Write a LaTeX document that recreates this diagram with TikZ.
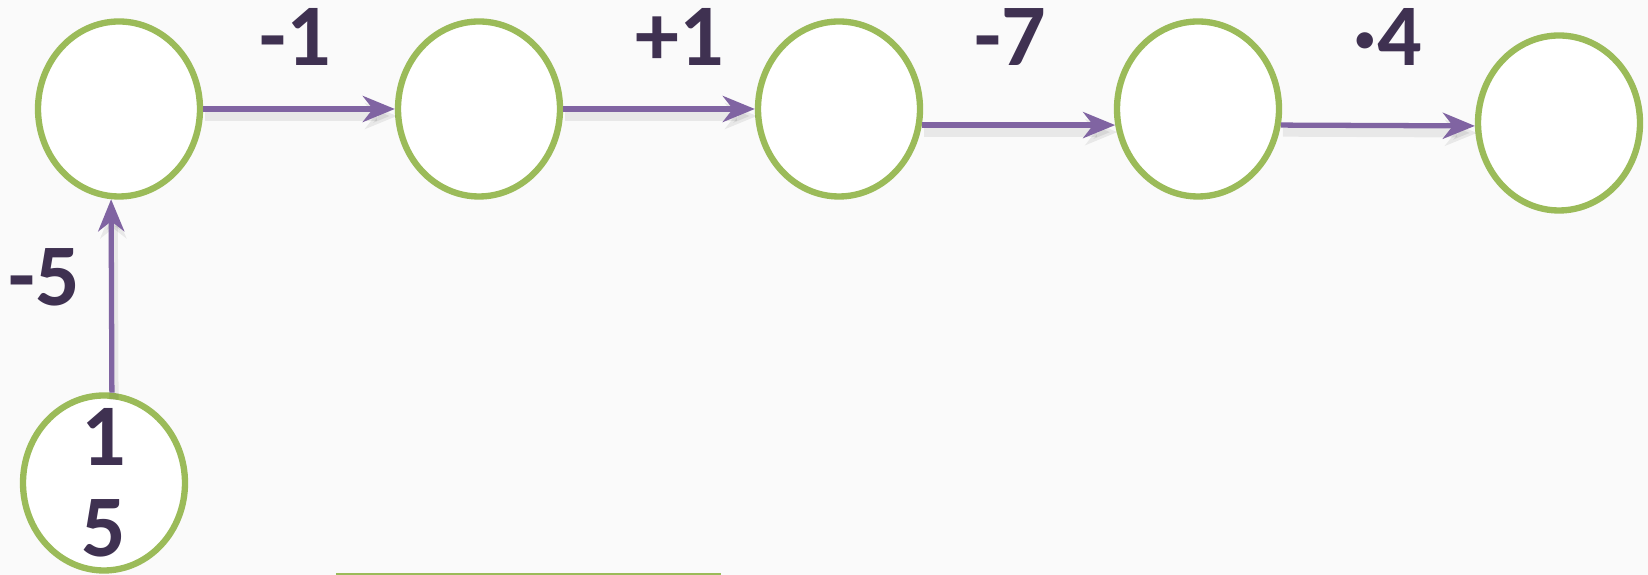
\documentclass[tikz,border=0pt]{standalone}
\usepackage{fontspec}
\setmainfont{Carlito}
\usetikzlibrary{arrows.meta,shapes.geometric}

\definecolor{stategreen}{HTML}{9BBB59}
\definecolor{steppurple}{HTML}{8064A2}
\definecolor{costpurple}{HTML}{3F3151}
\definecolor{paper}{HTML}{FAFAFA}

\begin{document}
\begin{tikzpicture}[
  state/.style={ellipse, draw=stategreen, line width=1.8pt, fill=white,
    minimum width=1.62cm, minimum height=1.75cm, inner sep=0pt,
    text=costpurple, font=\fontsize{25}{26}\selectfont\bfseries, align=center},
  move/.style={draw=steppurple, line width=1.5pt,
    -{Stealth[length=0.32cm, width=0.26cm, inset=0.1cm]},
    preaction={draw=black, line width=2.6pt, draw opacity=0.07, fill opacity=0.07,
      transform canvas={shift={(0.6pt,-2pt)}}}},
  cost/.style={text=costpurple, font=\fontsize{25}{26}\selectfont\bfseries}]

\fill[paper] (0,0) rectangle (16.48,5.75);
\useasboundingbox (0,0) rectangle (16.48,5.75);

% states
\node [state] (s1)    at  (1.19, 4.66) {};
\node [state] (s2)    at  (4.79, 4.66) {};
\node [state] (s3)    at  (8.39, 4.66) {};
\node [state] (s4)    at  (11.98, 4.66) {};
\node [state] (s5)    at  (15.59, 4.52) {};
\node [state, inner ysep=-4pt] (start) at  (1.04, 0.92) {1\\5};

% moves
\draw [move] (start.85) -- (s1.265);
\draw [move] (s1.east)  -- (s2.west);
\draw [move] (s2.east)  -- (s3.west);
\draw [move] (s3.-11)   -- (s4.191);
\draw [move] (s4.-11)   -- (s5.182);

% costs
\node [cost] (c0) at  (0.44, 2.98) {-5};
\node [cost] (c1) at  (2.95, 5.38) {-1};
\node [cost] (c2) at  (6.80, 5.38) {+1};
\node [cost] (c3) at  (10.10, 5.38) {-7};
\node [cost] (c4) at  (13.88, 5.38) {·4};

% -------- edge of the next shape -----------
\draw [stategreen, line width=0.6pt] (3.36, 0.01) -- (7.21, 0.01);
\end{tikzpicture}
\end{document}
